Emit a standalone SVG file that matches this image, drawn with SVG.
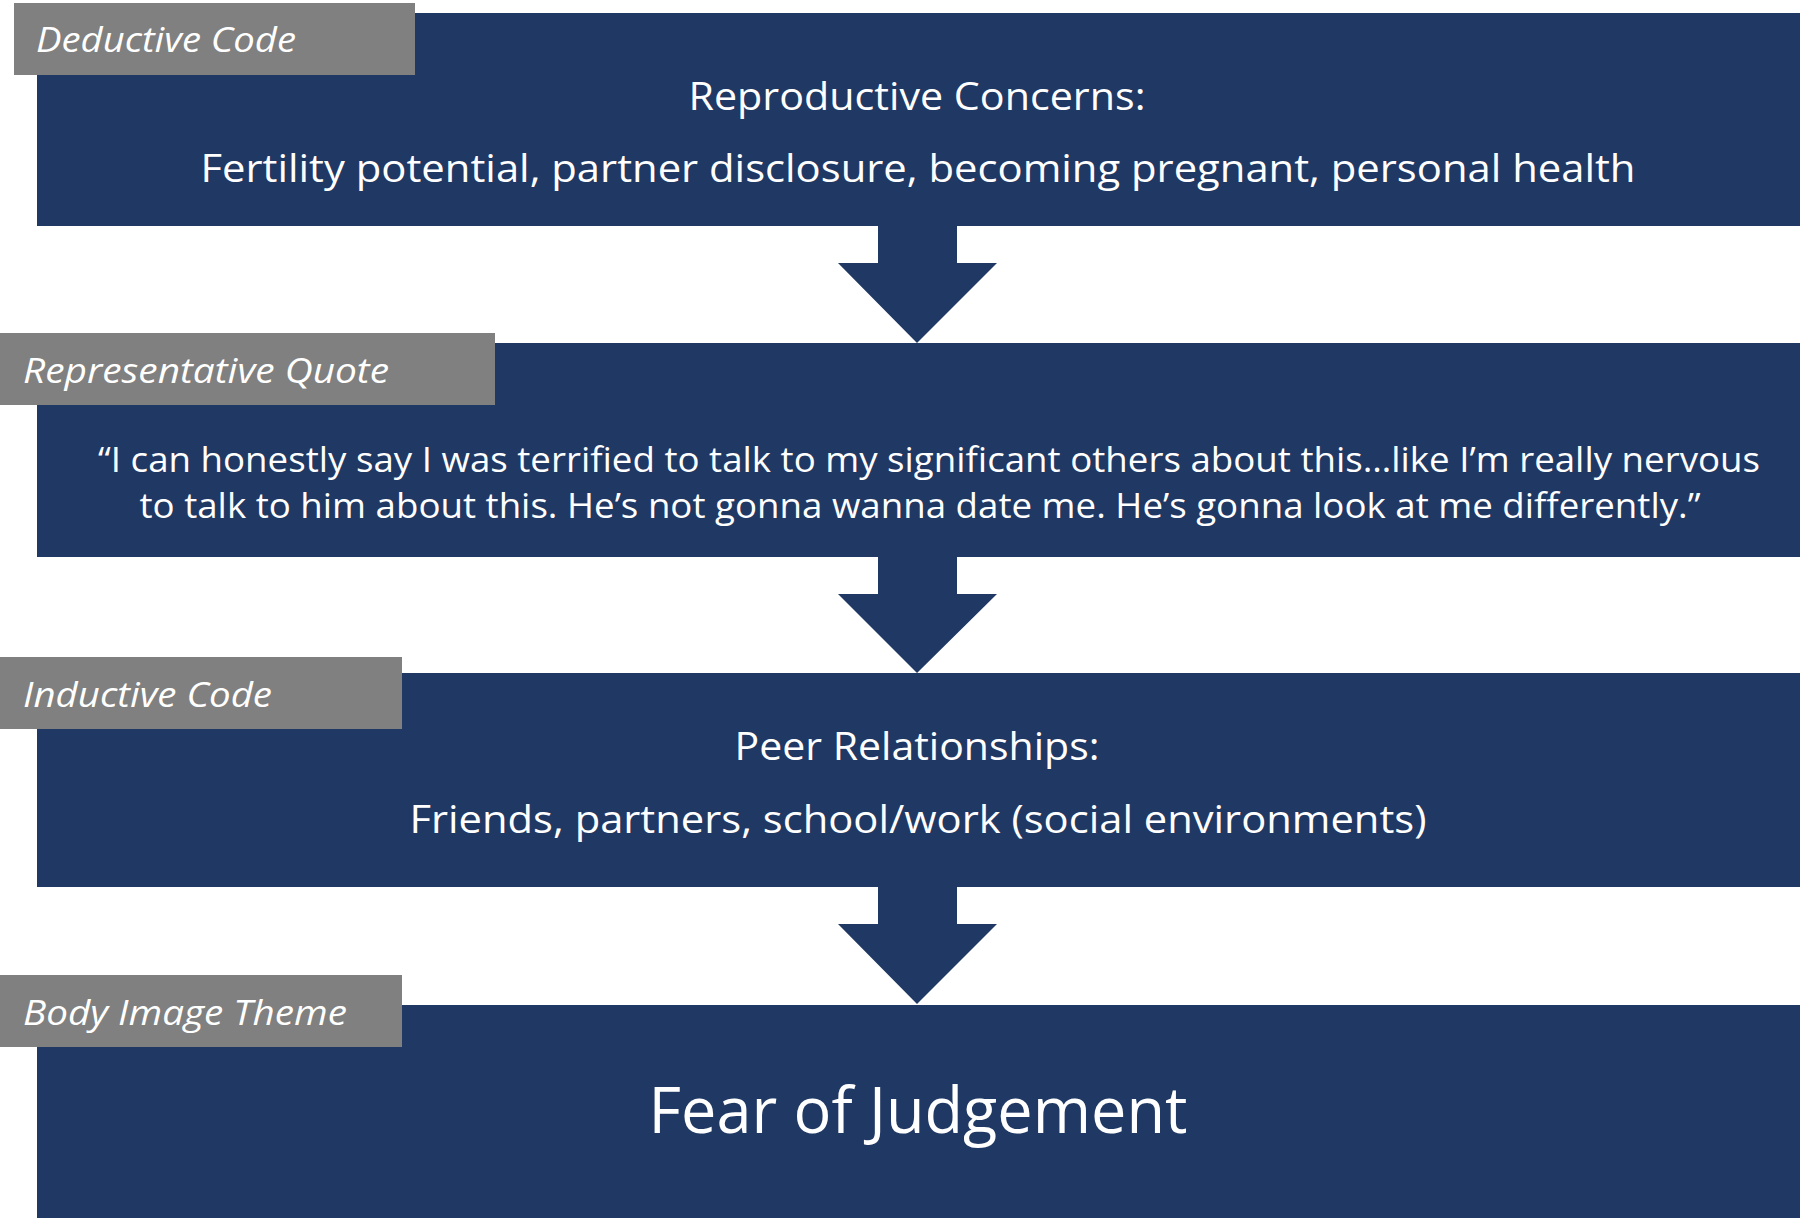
<svg xmlns="http://www.w3.org/2000/svg" width="1800" height="1220" viewBox="0 0 1800 1220">
<style>
.box{fill:#203864;}
.tag{fill:#808080;}
.arrow{fill:#203864;}
.lbl{font-family:"Open Sans","Noto Sans",sans-serif;font-style:italic;font-size:34px;fill:#ffffff;}
.txt{font-family:"Open Sans","Noto Sans",sans-serif;font-size:38px;fill:#ffffff;text-anchor:middle;}
.quote{font-family:"Open Sans","Noto Sans",sans-serif;font-size:35px;fill:#ffffff;text-anchor:middle;}
.big{font-family:"Open Sans","Noto Sans",sans-serif;font-size:64px;fill:#ffffff;text-anchor:middle;}
</style>
<rect width="1800" height="1220" fill="#ffffff"/>
<g id="connectors">
<polygon class="arrow" points="878,220 957,220 957,263 997,263 917,343 838,263 878,263"/>
<polygon class="arrow" points="878,550 957,550 957,594 997,594 917,673 838,594 878,594"/>
<polygon class="arrow" points="878,880 957,880 957,924 997,924 917,1004 838,924 878,924"/>
</g>
<g id="node-deductive">
<rect class="box" x="37" y="13" width="1763" height="213"/>
<rect class="tag" x="14" y="3" width="401" height="72"/>
<text class="lbl" x="36" y="52" textLength="260" lengthAdjust="spacingAndGlyphs">Deductive Code</text>
<text class="txt" x="917" y="110" textLength="457" lengthAdjust="spacingAndGlyphs">Reproductive Concerns:</text>
<text class="txt" x="918" y="182" textLength="1435" lengthAdjust="spacingAndGlyphs">Fertility potential, partner disclosure, becoming pregnant, personal health</text>
</g>
<g id="node-quote">
<rect class="box" x="37" y="343" width="1763" height="214"/>
<rect class="tag" x="0" y="333" width="495" height="72"/>
<text class="lbl" x="23" y="383" textLength="366" lengthAdjust="spacingAndGlyphs">Representative Quote</text>
<text class="quote" x="929" y="472" textLength="1662" lengthAdjust="spacingAndGlyphs">“I can honestly say I was terrified to talk to my significant others about this…like I’m really nervous</text>
<text class="quote" x="920" y="518" textLength="1561" lengthAdjust="spacingAndGlyphs">to talk to him about this. He’s not gonna wanna date me. He’s gonna look at me differently.”</text>
</g>
<g id="node-inductive">
<rect class="box" x="37" y="673" width="1763" height="214"/>
<rect class="tag" x="0" y="657" width="402" height="72"/>
<text class="lbl" x="23" y="707" textLength="249" lengthAdjust="spacingAndGlyphs">Inductive Code</text>
<text class="txt" x="917" y="760" textLength="365" lengthAdjust="spacingAndGlyphs">Peer Relationships:</text>
<text class="txt" x="918" y="833" textLength="1017" lengthAdjust="spacingAndGlyphs">Friends, partners, school/work (social environments)</text>
</g>
<g id="node-theme">
<rect class="box" x="37" y="1005" width="1763" height="213"/>
<rect class="tag" x="0" y="975" width="402" height="72"/>
<text class="lbl" x="23" y="1025" textLength="324" lengthAdjust="spacingAndGlyphs">Body Image Theme</text>
<text class="big" x="918" y="1133" textLength="539" lengthAdjust="spacingAndGlyphs">Fear of Judgement</text>
</g>
</svg>
